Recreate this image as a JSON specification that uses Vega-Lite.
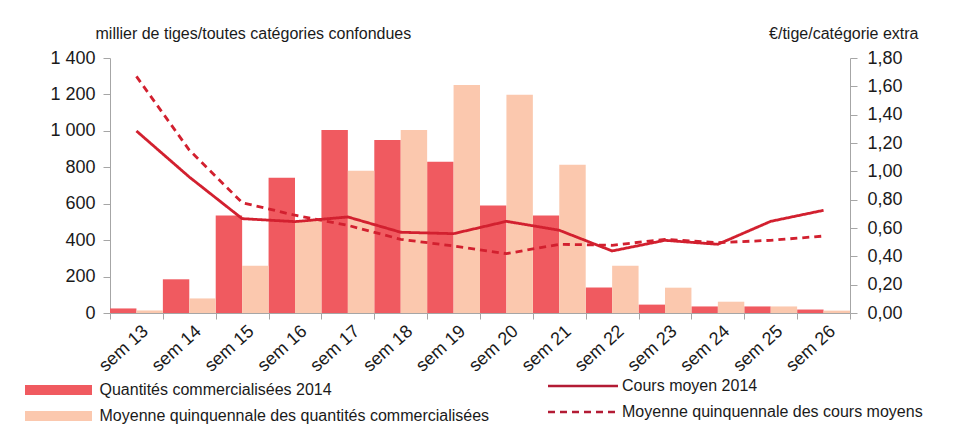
{
  "$schema": "https://vega.github.io/schema/vega-lite/v6.json",
  "width": 740,
  "height": 255,
  "autosize": {"type": "none"},
  "padding": {"left": 110, "top": 58, "right": 105, "bottom": 121},
  "background": "white",
  "config": {
    "locale": {"number": {"decimal": ",", "thousands": " ", "grouping": [3], "currency": ["", " €"]}},
    "font": "Liberation Sans",
    "view": {"stroke": null},
    "axis": {"labelFont": "Liberation Sans", "titleFont": "Liberation Sans", "labelColor": "#1a1a1a", "titleColor": "#1a1a1a", "domainColor": "#a6a6a6", "tickColor": "#a6a6a6", "grid": false},
    "legend": {"labelFont": "Liberation Sans", "labelColor": "#1a1a1a"}
  },
  "datasets": {
    "bars": [
      {"sem": "sem 13", "serie": "Quantités commercialisées 2014", "v": 25},
      {"sem": "sem 14", "serie": "Quantités commercialisées 2014", "v": 185},
      {"sem": "sem 15", "serie": "Quantités commercialisées 2014", "v": 535},
      {"sem": "sem 16", "serie": "Quantités commercialisées 2014", "v": 743},
      {"sem": "sem 17", "serie": "Quantités commercialisées 2014", "v": 1005},
      {"sem": "sem 18", "serie": "Quantités commercialisées 2014", "v": 950},
      {"sem": "sem 19", "serie": "Quantités commercialisées 2014", "v": 830},
      {"sem": "sem 20", "serie": "Quantités commercialisées 2014", "v": 590},
      {"sem": "sem 21", "serie": "Quantités commercialisées 2014", "v": 535},
      {"sem": "sem 22", "serie": "Quantités commercialisées 2014", "v": 140},
      {"sem": "sem 23", "serie": "Quantités commercialisées 2014", "v": 46},
      {"sem": "sem 24", "serie": "Quantités commercialisées 2014", "v": 36},
      {"sem": "sem 25", "serie": "Quantités commercialisées 2014", "v": 36},
      {"sem": "sem 26", "serie": "Quantités commercialisées 2014", "v": 19},
      {"sem": "sem 13", "serie": "Moyenne quinquennale des quantités commercialisées", "v": 14},
      {"sem": "sem 14", "serie": "Moyenne quinquennale des quantités commercialisées", "v": 80},
      {"sem": "sem 15", "serie": "Moyenne quinquennale des quantités commercialisées", "v": 260},
      {"sem": "sem 16", "serie": "Moyenne quinquennale des quantités commercialisées", "v": 505},
      {"sem": "sem 17", "serie": "Moyenne quinquennale des quantités commercialisées", "v": 781},
      {"sem": "sem 18", "serie": "Moyenne quinquennale des quantités commercialisées", "v": 1005},
      {"sem": "sem 19", "serie": "Moyenne quinquennale des quantités commercialisées", "v": 1252},
      {"sem": "sem 20", "serie": "Moyenne quinquennale des quantités commercialisées", "v": 1198},
      {"sem": "sem 21", "serie": "Moyenne quinquennale des quantités commercialisées", "v": 814},
      {"sem": "sem 22", "serie": "Moyenne quinquennale des quantités commercialisées", "v": 260},
      {"sem": "sem 23", "serie": "Moyenne quinquennale des quantités commercialisées", "v": 139},
      {"sem": "sem 24", "serie": "Moyenne quinquennale des quantités commercialisées", "v": 62},
      {"sem": "sem 25", "serie": "Moyenne quinquennale des quantités commercialisées", "v": 36},
      {"sem": "sem 26", "serie": "Moyenne quinquennale des quantités commercialisées", "v": 13}
    ],
    "lines": [
      {"sem": "sem 13", "serie": "Cours moyen 2014", "p": 1.285},
      {"sem": "sem 14", "serie": "Cours moyen 2014", "p": 0.96},
      {"sem": "sem 15", "serie": "Cours moyen 2014", "p": 0.666},
      {"sem": "sem 16", "serie": "Cours moyen 2014", "p": 0.645},
      {"sem": "sem 17", "serie": "Cours moyen 2014", "p": 0.678},
      {"sem": "sem 18", "serie": "Cours moyen 2014", "p": 0.57},
      {"sem": "sem 19", "serie": "Cours moyen 2014", "p": 0.56},
      {"sem": "sem 20", "serie": "Cours moyen 2014", "p": 0.647},
      {"sem": "sem 21", "serie": "Cours moyen 2014", "p": 0.584},
      {"sem": "sem 22", "serie": "Cours moyen 2014", "p": 0.438},
      {"sem": "sem 23", "serie": "Cours moyen 2014", "p": 0.513},
      {"sem": "sem 24", "serie": "Cours moyen 2014", "p": 0.485},
      {"sem": "sem 25", "serie": "Cours moyen 2014", "p": 0.647},
      {"sem": "sem 26", "serie": "Cours moyen 2014", "p": 0.725},
      {"sem": "sem 13", "serie": "Moyenne quinquennale des cours moyens", "p": 1.67},
      {"sem": "sem 14", "serie": "Moyenne quinquennale des cours moyens", "p": 1.15},
      {"sem": "sem 15", "serie": "Moyenne quinquennale des cours moyens", "p": 0.779},
      {"sem": "sem 16", "serie": "Moyenne quinquennale des cours moyens", "p": 0.69},
      {"sem": "sem 17", "serie": "Moyenne quinquennale des cours moyens", "p": 0.619},
      {"sem": "sem 18", "serie": "Moyenne quinquennale des cours moyens", "p": 0.52},
      {"sem": "sem 19", "serie": "Moyenne quinquennale des cours moyens", "p": 0.473},
      {"sem": "sem 20", "serie": "Moyenne quinquennale des cours moyens", "p": 0.419},
      {"sem": "sem 21", "serie": "Moyenne quinquennale des cours moyens", "p": 0.485},
      {"sem": "sem 22", "serie": "Moyenne quinquennale des cours moyens", "p": 0.478},
      {"sem": "sem 23", "serie": "Moyenne quinquennale des cours moyens", "p": 0.52},
      {"sem": "sem 24", "serie": "Moyenne quinquennale des cours moyens", "p": 0.497},
      {"sem": "sem 25", "serie": "Moyenne quinquennale des cours moyens", "p": 0.513},
      {"sem": "sem 26", "serie": "Moyenne quinquennale des cours moyens", "p": 0.543}
    ]
  },
  "layer": [
    {
      "data": {"name": "bars"},
      "mark": {"type": "bar"},
      "encoding": {
        "x": {
          "field": "sem", "type": "nominal", "sort": null,
          "scale": {"paddingInner": 0, "paddingOuter": 0},
          "axis": {"title": null, "labelAngle": -42, "labelAlign": "right", "labelBaseline": "top", "labelFontSize": 18, "labelOffset": 3, "labelPadding": 3, "tickBand": "extent", "tickSize": 6}
        },
        "xOffset": {
          "field": "serie", "type": "nominal",
          "sort": ["Quantités commercialisées 2014", "Moyenne quinquennale des quantités commercialisées"],
          "scale": {"paddingInner": 0, "paddingOuter": 0}
        },
        "y": {
          "field": "v", "type": "quantitative",
          "scale": {"domain": [0, 1400], "nice": false},
          "axis": {"title": "millier de tiges/toutes catégories confondues", "titleAngle": 0, "titleAlign": "left", "titleBaseline": "middle", "titleX": -15, "titleY": -25, "titleFontSize": 16, "titleFontWeight": "normal", "values": [0, 200, 400, 600, 800, 1000, 1200, 1400], "format": ",.0f", "labelFontSize": 18, "tickSize": 7, "labelPadding": 8}
        },
        "color": {
          "field": "serie", "type": "nominal",
          "scale": {"domain": ["Quantités commercialisées 2014", "Moyenne quinquennale des quantités commercialisées"], "range": ["#f05a60", "#fbc8ae"]},
          "legend": {"title": null, "orient": "none", "legendX": -59.5, "legendY": 324, "symbolType": "M-6.7,-1H6.7V1H-6.7Z", "symbolSize": 100, "symbolStrokeWidth": 0, "labelFontSize": 16, "labelLimit": 0, "labelOffset": 33, "rowPadding": 10}
        }
      }
    },
    {
      "data": {"name": "lines"},
      "mark": {"type": "line", "color": "#d2202f", "strokeWidth": 2.8},
      "encoding": {
        "x": {"field": "sem", "type": "nominal", "sort": null},
        "y": {
          "field": "p", "type": "quantitative",
          "scale": {"domain": [0, 1.8], "nice": false},
          "axis": {"orient": "right", "title": "€/tige/catégorie extra", "titleAngle": 0, "titleAlign": "right", "titleBaseline": "middle", "titleX": 68, "titleY": -25, "titleFontSize": 16, "titleFontWeight": "normal", "values": [0, 0.2, 0.4, 0.6, 0.8, 1.0, 1.2, 1.4, 1.6, 1.8], "format": ".2f", "labelFontSize": 18, "tickSize": 7, "labelPadding": 10}
        },
        "strokeDash": {
          "field": "serie", "type": "nominal",
          "scale": {"domain": ["Cours moyen 2014", "Moyenne quinquennale des cours moyens"], "range": [[1, 0], [7, 5]]},
          "legend": {"title": null, "orient": "none", "legendX": 465, "legendY": 320, "symbolType": "M-7,0H7", "symbolSize": 100, "symbolStrokeColor": "#b31b34", "symbolStrokeWidth": 2.5, "labelFontSize": 16, "labelLimit": 0, "labelOffset": 31, "rowPadding": 10}
        }
      }
    }
  ],
  "resolve": {"scale": {"y": "independent"}}
}
